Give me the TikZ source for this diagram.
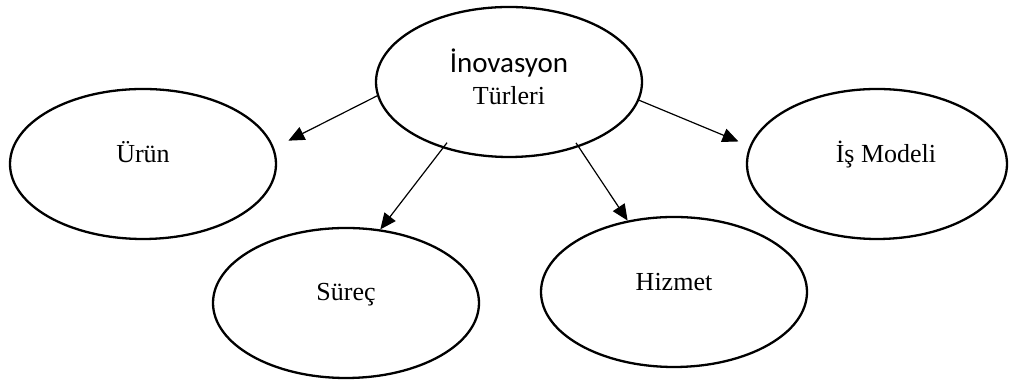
\documentclass[tikz,border=0pt]{standalone}
\usepackage{fontspec}
\setmainfont{Liberation Serif}
\newfontfamily\calibrifont{Carlito}
\usetikzlibrary{shapes.geometric, arrows.meta}

\begin{document}
\begin{tikzpicture}[
  x=0.5pt, y=-0.5pt,
  font=\fontsize{13}{15.6}\selectfont,
  oval/.style={draw, ellipse, line width=1.15pt, minimum width=133pt, minimum height=75pt,
               inner sep=0pt, align=center},
  arr/.style={-{Triangle[length=8pt, width=7pt]}, line width=0.6pt},
]
\useasboundingbox (0,0) rectangle (1009,383);

% --- centre ellipse ---
\node[oval, text depth=5pt] (inov) at (509,82)
  {{\calibrifont\fontsize{14.5}{17}\selectfont İnovasyon}\\[0.5pt] Türleri};

% --- the four kinds (labels sit a bit above the middle) ---
\node[oval]                     (urun)    at (143,164) {\raisebox{12pt}{Ürün}};
\node[oval]                     (surec)   at (346,303) {\raisebox{11pt}{Süreç}};
\node[oval]                     (hizmet)  at (674,292) {\raisebox{10pt}{Hizmet}};
\node[oval, minimum width=130pt] (ismodel) at (877,164) {\hspace*{9pt}\raisebox{12pt}{İş Modeli}};

% --- arrows from the centre ---
\draw[arr, shorten >=8pt]   (inov.186) -- (urun.7);
\draw[arr, shorten <=-3.5pt] (inov.225) -- (surec.65);
\draw[arr, shorten <=-2.5pt] (inov.317) -- (hizmet.123);
\draw[arr, shorten >=6pt]   (inov.352) -- (ismodel.172);

\end{tikzpicture}
\end{document}
